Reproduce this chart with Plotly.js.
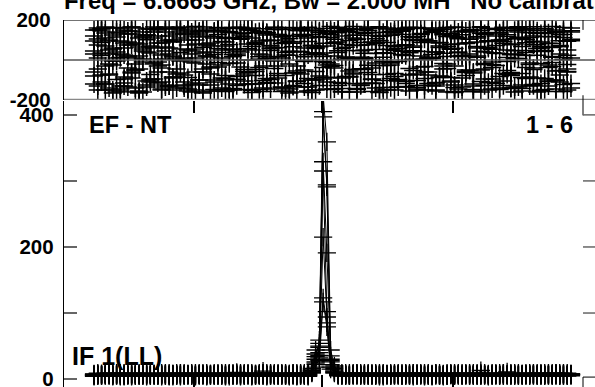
<!DOCTYPE html>
<html>
<head>
<meta charset="utf-8">
<script src="https://cdn.plot.ly/plotly-3.0.1.min.js"></script>
<style>html,body{margin:0;padding:0;background:#fff;}#chart{width:595px;height:387px;}</style>
</head>
<body>
<div id="chart"></div>
<script>
// Channel axis tick positions (major ticks, unlabeled)
const xTickVals = [27.6, 61.7, 96.6];
const ampTickVals = [0, 100, 200, 300, 400];
const ampTickText = ['0', '', '200', '', '400'];
const phaseTickVals = [-200, 200];
const phaseTickText = ['-200', '200'];

const titleText = 'Freq = 6.6665 GHz, Bw = 2.000 MH\u00a0\u00a0\u00a0No calibration';
const baselineLabel = 'EF - NT';
const antennaLabel = '1 - 6';
const ifLabel = 'IF 1(LL)';

// Phase (deg) per scan, 128 channels each
const phase1 = [120,-45,88,-150,30,162,-98,12,-130,75,145,-20,-160,55,101,-72,
140,-115,5,158,-60,92,-140,38,130,-88,-10,167,-125,64,20,-155,
110,-35,150,-100,78,-150,45,125,-70,0,160,-120,95,-30,135,-145,
60,-90,115,25,-165,84,-55,148,-5,-135,70,155,-80,35,-110,128,
-40,90,-158,15,142,-65,105,-128,50,165,-95,-15,118,-150,72,-25,
138,-105,28,152,-75,98,-138,42,160,-60,8,-120,85,132,-160,58,
-30,112,-90,145,18,-148,68,-50,126,-112,36,158,-82,102,-8,-142,
80,150,-68,22,-130,94,134,-155,48,-38,118,-100,66,163,-22,-118];
const phase2 = [-80,150,22,-120,95,-5,160,-145,60,130,-65,10,-155,115,40,-100,
155,-30,85,-135,120,15,-70,165,-110,50,-160,100,140,-45,75,-125,
28,162,-90,108,-150,55,-15,135,-105,80,148,-58,2,-140,125,65,
-115,18,152,-78,92,-132,42,158,-50,110,-162,30,138,-95,70,-20,
145,-128,58,12,-85,168,-148,88,34,-62,122,-118,96,-8,155,-138,
48,-100,128,76,-42,160,-128,20,104,-75,142,-155,62,-18,118,-88,
165,36,-135,82,-52,150,14,-108,132,-150,54,-28,98,146,-72,26,
-160,114,68,-38,156,-122,44,90,-92,136,-12,-145,72,128,-58,10];
const phase3 = [45,-130,158,70,-20,-150,115,30,-95,145,-60,85,-165,5,125,-110,
60,160,-40,-125,100,20,-85,150,-140,75,130,-15,-100,165,40,-70,
140,-155,10,90,-120,52,162,-35,118,-148,68,-78,142,25,-112,96,
-5,155,-138,38,108,-65,-160,128,16,-92,148,58,-128,84,-25,168,
-145,46,120,-82,6,152,-118,74,-48,136,-158,32,98,-102,160,-12,
66,-135,144,22,-72,112,-150,88,4,-118,154,40,-88,126,-42,78,
-162,140,18,-58,104,-130,60,162,-22,92,-145,34,130,-105,50,-68,
148,8,-125,86,158,-48,24,-152,116,64,-32,138,-110,12,94,-140];
const phase4 = [150,10,-110,135,-75,55,-160,95,25,-135,165,-50,80,140,-125,35,
-15,120,-150,65,155,-90,5,110,-130,160,45,-60,130,-165,20,85,
-100,148,-25,70,-145,112,30,-80,158,-120,50,138,-38,-158,100,15,
128,-68,82,-140,162,40,-105,118,-8,146,-152,62,26,-88,134,-32,
88,164,-118,48,-55,124,-142,14,152,76,-98,106,-160,36,-28,142,
-82,56,156,-132,102,4,-70,132,-150,90,28,-112,160,-45,68,122,
-138,20,144,-62,86,-155,116,44,-18,158,-95,72,136,-128,12,-75,
106,166,-142,38,-85,120,58,-118,150,-25,82,-158,30,142,-60,96];
const phase5 = [-120,75,145,-30,100,-165,40,160,-85,15,130,-140,65,-10,155,-95,
110,-60,25,165,-130,90,-45,140,0,-155,120,55,-115,148,-20,70,
-148,128,38,-92,158,16,-128,104,-58,150,-162,84,30,-102,138,48,
162,-78,10,122,-145,66,-30,154,-118,92,36,-150,114,-8,144,-88,
20,136,-160,78,158,-48,102,-125,6,146,-72,52,166,-138,88,-15,
130,-98,44,160,-155,70,118,-35,-128,96,12,148,-80,34,162,-110,
58,-145,126,2,152,-65,90,-160,40,138,-22,-118,100,164,-52,76,
-135,28,156,-92,112,-40,146,60,-148,84,18,-102,128,-158,50,140];
const phase6 = [30,160,-75,110,-140,60,-5,135,-115,90,165,-50,20,-160,125,70,
-95,150,-25,45,-130,100,160,-65,10,-145,140,80,-100,35,155,-40,
118,-12,92,-158,142,26,-82,164,-122,56,110,-48,-148,132,8,-98,
152,62,-135,86,-20,160,-108,42,124,-155,74,-58,146,18,-88,112,
-28,158,-142,64,98,-70,138,4,-118,156,-40,82,-162,120,34,-92,
150,-8,74,-135,164,46,-102,128,-60,14,144,-150,88,-30,160,54,
-125,106,22,-78,148,-158,66,134,-45,96,-112,152,32,-68,118,-140,
8,162,-88,48,136,-128,78,-18,158,-108,62,142,-52,2,-150,104];
const phase7 = [-60,105,155,-120,50,-25,140,-155,85,20,-90,160,-45,120,-135,65,
165,-10,-110,95,30,-150,130,55,-75,150,-120,10,115,-160,80,-35,
145,58,-140,112,-18,162,-96,40,134,-62,-152,88,16,156,-116,72,
-42,128,-158,100,24,-128,148,-70,60,164,-100,34,118,-38,-145,142,
82,-112,4,154,-82,110,-160,46,132,-26,90,-140,160,14,-72,124,
-150,58,146,-118,36,-52,162,98,-92,8,138,-130,70,152,-20,-105,
116,40,-158,84,140,-60,20,166,-128,64,-38,120,-148,92,156,-78,
30,-135,108,150,-15,76,-160,132,42,-100,168,-55,96,-122,24,146];
const phase8 = [95,-150,35,165,-70,125,10,-130,150,-40,75,-160,110,45,-105,155,
-20,85,-145,140,60,-85,160,-5,-125,100,30,-150,145,-60,120,15,
-110,160,50,-78,136,-142,22,108,-48,154,-120,78,4,142,-92,56,
164,-30,118,-155,44,90,-64,150,-135,26,128,-100,66,158,-12,-148,
104,38,-90,146,-160,72,124,-44,12,160,-115,86,-28,138,-150,54,
-68,152,26,-108,116,64,-145,158,-32,96,-128,40,144,-82,18,132,
-158,80,162,-50,30,-120,110,148,-95,58,-10,156,-140,84,126,-62,
46,140,-155,102,-22,166,-90,68,134,-130,14,150,-75,112,-45,160];

// Amplitude per scan, 128 channels each
const amp1 = [6,7,5,8,6,4,7,9,5,6,8,5,7,6,4,8,
7,5,6,9,6,5,8,4,7,6,5,8,6,7,5,6,
8,5,7,6,4,9,6,7,5,8,6,5,7,12,6,5,
7,6,8,5,6,7,4,8,6,8,14,30,59,430,359,44,
20,9,6,7,5,8,6,5,7,6,9,5,7,6,8,5,
6,8,5,7,6,4,8,6,7,5,6,9,5,7,6,8,
5,7,6,8,5,6,7,13,6,5,8,6,7,5,6,7,
8,6,5,7,6,8,5,7,6,9,5,6,7,5,8,6];
const amp2 = [5,8,6,7,9,5,6,4,8,7,5,6,9,5,7,6,
6,7,4,8,5,7,6,9,5,6,8,7,5,6,4,8,
7,6,8,5,7,6,10,5,8,6,4,7,6,8,5,7,
6,5,7,8,4,6,9,5,7,6,10,22,50,405,294,35,
16,7,8,5,6,7,5,9,6,8,5,7,6,4,7,8,
7,5,6,8,7,9,5,6,4,8,7,5,6,8,5,7,
6,8,5,6,9,5,7,6,8,4,6,7,5,9,6,5,
5,7,8,6,5,7,6,8,5,6,7,9,5,6,7,8];
const amp3 = [7,5,6,8,5,7,9,6,4,7,6,8,5,6,7,5,
8,6,5,7,6,4,7,8,6,5,9,6,7,5,8,6,
5,7,6,9,8,5,6,7,6,9,5,8,6,7,4,6,
8,7,5,6,7,9,5,6,8,9,12,38,54,397,291,26,
12,8,5,7,6,9,7,6,5,8,6,7,4,8,6,5,
6,7,9,5,8,6,5,7,8,6,4,7,9,6,5,8,
7,5,6,7,6,8,9,5,6,7,5,8,6,7,11,6,
6,8,7,5,9,6,5,8,7,5,6,8,6,7,5,7];
const amp4 = [4,6,8,7,6,5,8,7,6,5,7,9,6,8,5,7,
5,8,7,6,4,8,5,7,9,6,7,5,8,6,7,5,
6,9,5,7,6,8,5,4,7,6,8,6,5,9,6,8,
7,5,6,9,8,5,7,6,5,5,16,44,36,329,191,30,
18,6,7,8,5,6,8,7,9,5,7,6,8,5,6,9,
8,6,5,7,9,6,7,5,6,8,5,7,6,4,8,6,
6,7,8,5,7,6,5,8,7,6,9,5,6,8,7,5,
7,5,6,8,6,7,9,5,6,8,7,6,5,8,6,7];
const amp5 = [8,6,7,5,7,8,6,5,9,6,4,7,8,5,6,8,
6,5,8,7,9,6,7,5,6,8,6,4,7,9,6,7,
5,8,6,4,7,5,8,9,6,7,5,8,6,5,7,9,
6,8,7,5,6,8,6,7,9,7,11,26,48,315,102,22,
10,5,8,6,7,5,9,6,8,7,5,6,9,7,5,6,
5,9,7,6,5,8,6,9,5,7,8,6,5,7,9,6,
8,6,7,9,6,5,8,6,5,7,6,9,8,6,5,8,
6,7,5,6,8,9,6,7,8,6,5,7,8,9,6,5];
const amp6 = [6,9,5,6,8,7,5,8,6,9,7,5,6,7,8,6,
7,6,9,5,7,8,6,6,8,7,5,9,6,8,5,7,
9,6,5,8,6,7,9,6,5,8,7,6,9,5,8,6,
5,7,9,6,5,7,8,5,6,4,9,18,32,215,94,28,
14,6,5,9,8,6,7,5,7,6,8,5,7,9,6,7,
9,6,8,5,7,5,9,8,6,5,7,9,6,5,7,8,
5,8,9,6,8,7,6,5,9,8,7,6,5,8,6,9,
8,6,7,9,5,8,7,6,5,7,9,8,6,5,9,6];
const amp7 = [7,5,8,6,9,6,7,5,8,6,5,8,7,9,6,5,
5,9,6,8,5,7,9,6,5,7,8,6,9,7,6,8,
6,7,9,5,8,6,7,8,9,5,6,7,8,6,9,5,
9,6,5,7,8,6,5,9,7,8,13,34,40,123,85,18,
9,7,6,5,9,8,6,7,5,9,6,8,5,6,8,7,
7,8,6,9,5,7,6,8,9,6,5,8,7,6,5,9,
9,6,5,7,8,9,5,7,6,5,8,7,9,5,8,6,
5,9,8,6,7,5,8,9,6,8,7,5,9,8,5,7];
const amp8 = [5,7,6,9,7,8,6,9,5,7,8,6,5,8,9,7,
8,6,7,5,8,6,5,9,7,8,6,5,7,6,9,5,
7,5,8,6,9,7,6,5,8,7,9,5,7,9,6,8,
6,9,8,7,5,9,6,8,5,6,10,24,28,117,79,15,
11,8,9,6,5,7,9,8,6,5,7,9,6,8,7,5,
6,7,5,8,6,9,8,7,5,9,6,8,7,5,6,7,
7,9,6,8,5,7,6,9,8,6,5,7,6,9,7,8,
9,5,6,7,8,6,7,5,9,6,8,9,5,7,6,8];

const phases = [phase1, phase2, phase3, phase4, phase5, phase6, phase7, phase8];
const amps = [amp1, amp2, amp3, amp4, amp5, amp6, amp7, amp8];

const FONT = 'Liberation Sans, Arial, Helvetica, sans-serif';
const marker = {symbol: 'cross-thin-open', size: 13, color: '#000', line: {width: 1.3, color: '#000'}};
const phaseMarker = {symbol: 'cross-thin-open', size: 13, color: '#000', line: {width: 1.5, color: '#111'}};

const traces = [];
amps.forEach(a => {
  traces.push({
    x: a.map((_, i) => i + 1), y: a, xaxis: 'x', yaxis: 'y',
    type: 'scatter', mode: 'lines+markers',
    line: {color: '#000', width: 1}, marker: marker,
    hoverinfo: 'skip', showlegend: false, cliponaxis: true
  });
});
phases.forEach(p => {
  traces.push({
    x: p.map((_, i) => i + 1), y: p, xaxis: 'x2', yaxis: 'y2',
    type: 'scatter', mode: 'markers', marker: phaseMarker,
    hoverinfo: 'skip', showlegend: false
  });
});

const gray = '#666';
const shapes = [
  // top panel frame lines (extend to right edge)
  {type: 'line', xref: 'paper', yref: 'y2', x0: 0, x1: 1.03, y0: 200, y1: 200, line: {color: '#444', width: 1.5}},
  {type: 'line', xref: 'paper', yref: 'y2', x0: 0, x1: 1.03, y0: 0, y1: 0, line: {color: '#555', width: 1.5}},
  {type: 'line', xref: 'paper', yref: 'y2', x0: 0, x1: 1.03, y0: -200, y1: -200, line: {color: '#888', width: 2.5}},
  // neighbour panel fragments on the right
  {type: 'line', xref: 'paper', yref: 'paper', x0: 1.0, x1: 1.0, y0: 1, y1: 0.973, line: {color: '#000', width: 1}},
  {type: 'line', xref: 'paper', yref: 'paper', x0: 1.0, x1: 1.0, y0: 0.795, y1: 0.74, line: {color: '#000', width: 1}},
  {type: 'line', xref: 'paper', yref: 'paper', x0: 1.0, x1: 1.0, y0: 0.027, y1: 0, line: {color: '#000', width: 1}},
  {type: 'line', xref: 'paper', yref: 'paper', x0: 1.0, x1: 1.03, y0: 0.027, y1: 0.027, line: {color: '#000', width: 1}},
];
[400, 300, 200, 100].forEach(v => {
  shapes.push({type: 'line', xref: 'paper', yref: 'y', x0: 1.0, x1: 1.03, y0: v, y1: v, line: {color: gray, width: 1.5}});
});

const annFont = {family: FONT, size: 23.5, color: '#000', weight: 'bold'};
const tickFont = {family: FONT, size: 20.5, color: '#000', weight: 'bold'};
const layout = {
  width: 595, height: 387,
  margin: {l: 64, r: 12, t: 20, b: 0, pad: 0},
  paper_bgcolor: '#fff', plot_bgcolor: '#fff',
  showlegend: false,
  font: {family: FONT, color: '#000'},
  title: {
    text: titleText,
    font: {family: FONT, size: 23.9, color: '#000', weight: 'bold'},
    xref: 'container', x: 64 / 595, xanchor: 'left',
    yref: 'container', y: 1 - 1 / 387, yanchor: 'middle'
  },
  xaxis: {
    domain: [0, 1], range: [-7, 131.2], anchor: 'y',
    tickvals: xTickVals, showticklabels: false,
    ticks: 'inside', ticklen: 12, tickwidth: 1.2, tickcolor: '#000',
    showline: true, linecolor: 'rgba(0,0,0,0)', mirror: 'ticks',
    showgrid: false, zeroline: false
  },
  yaxis: {
    domain: [0, 0.7793], range: [-12, 421], anchor: 'x',
    tickvals: ampTickVals, ticktext: ampTickText,
    ticks: 'inside', ticklen: 13, tickwidth: 1.5, tickcolor: gray,
    ticklabelstandoff: 5, ticklabeloverflow: 'allow',
    tickfont: tickFont,
    showline: true, linecolor: '#000', linewidth: 1.2,
    showgrid: false, zeroline: false
  },
  xaxis2: {
    domain: [0, 1], range: [-7, 131.2], anchor: 'y2', matches: 'x',
    showticklabels: false, ticks: '', showline: false,
    showgrid: false, zeroline: false
  },
  yaxis2: {
    domain: [0.782, 1], range: [-200, 200], anchor: 'x2',
    tickvals: phaseTickVals, ticktext: phaseTickText,
    ticks: '', ticklabelstandoff: 8, ticklabeloverflow: 'allow',
    tickfont: tickFont,
    showline: true, linecolor: '#000', linewidth: 1.2,
    showgrid: false, zeroline: false
  },
  shapes: shapes,
  annotations: [
    {text: baselineLabel, xref: 'paper', yref: 'paper', x: 0.044, y: 0.714, xanchor: 'left', yanchor: 'middle', showarrow: false, font: annFont},
    {text: antennaLabel, xref: 'paper', yref: 'paper', x: 0.984, y: 0.714, xanchor: 'right', yanchor: 'middle', showarrow: false, font: annFont},
    {text: ifLabel, xref: 'paper', yref: 'paper', x: 0.012, y: 0.085, xanchor: 'left', yanchor: 'middle', showarrow: false, font: {family: FONT, size: 25, color: '#000', weight: 'bold'}}
  ]
};

Plotly.newPlot('chart', traces, layout, {staticPlot: true, displayModeBar: false});
</script>
</body>
</html>
